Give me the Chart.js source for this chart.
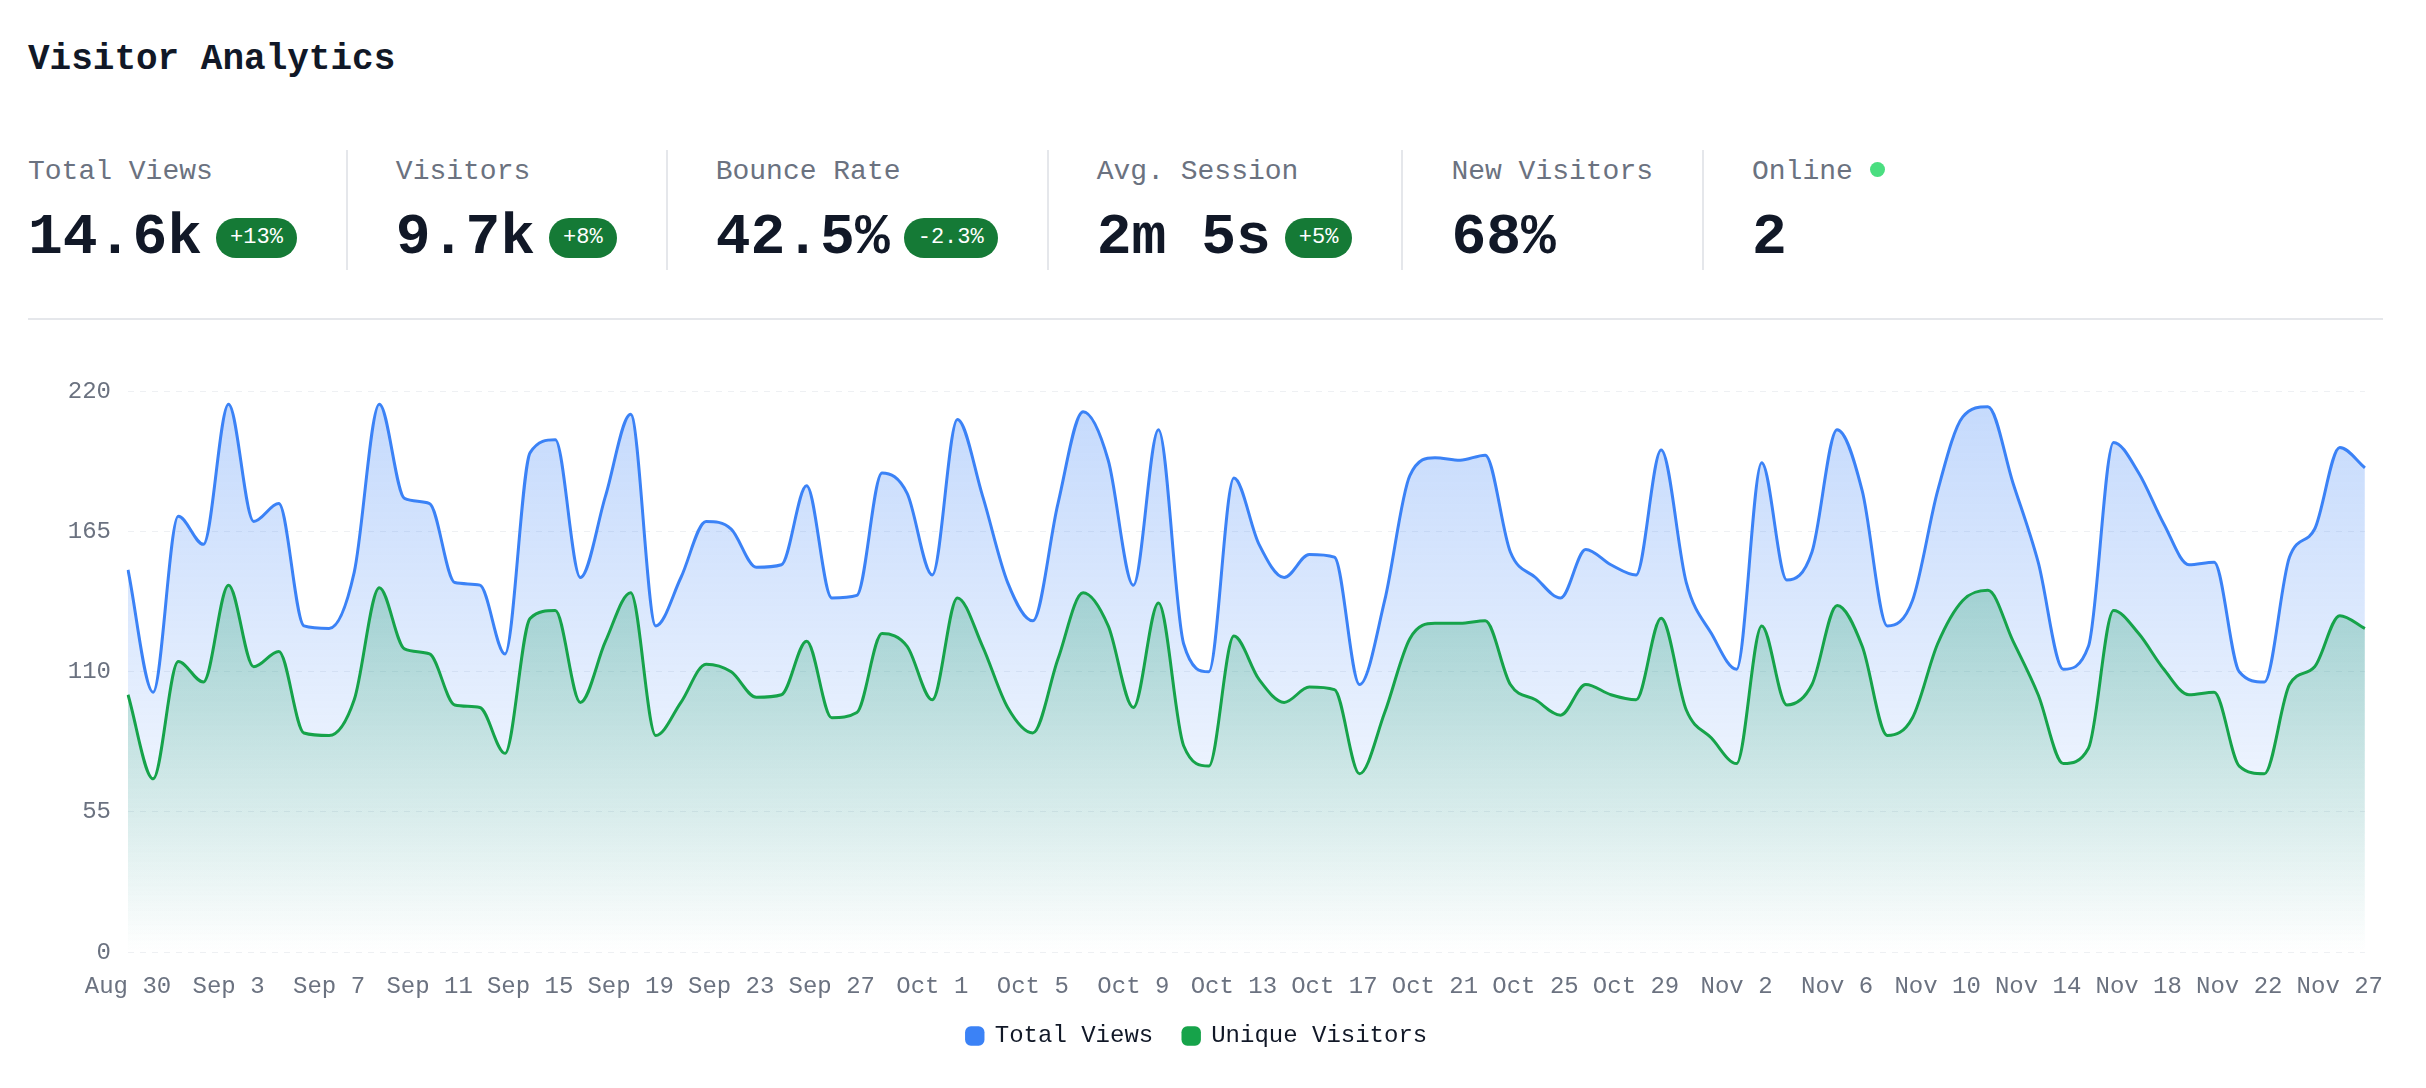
<!DOCTYPE html>
<html>
<head>
<meta charset="utf-8">
<script src="https://cdn.jsdelivr.net/npm/chart.js@4.4.1/dist/chart.umd.min.js"></script>
<style>
  body { margin: 0; background: #fff; font-family: 'Liberation Mono', monospace; color: #111827; width: 2426px; height: 1088px; overflow: hidden; position: relative; }
  h1 { position: absolute; left: 28px; top: 42px; margin: 0; font-size: 36px; line-height: 36px; font-weight: 700; }
  .stats { position: absolute; left: 28px; top: 150px; display: flex; }
  .stat { height: 120px; padding: 0 49px 0 48px; border-left: 2px solid #e5e7eb; }
  .stat:first-child { padding-left: 0; border-left: none; }
  .lbl { font-size: 28px; line-height: 28px; color: #6b7280; margin-top: 8px; display: flex; align-items: center; }
  .val { display: flex; align-items: center; margin-top: 23px; height: 58px; }
  .num { font-size: 58px; line-height: 58px; font-weight: 700; }
  .badge { margin-left: 14px; background: #157a36; color: #fff; font-size: 22px; height: 40px; line-height: 40px; padding: 0 14px; border-radius: 20px; }
  .dot { width: 15px; height: 15px; border-radius: 50%; background: #4ade80; margin-left: 17px; position: relative; top: -3px; }
  .sep { position: absolute; left: 28px; top: 318px; width: 2355px; height: 2px; background: #e5e7eb; }
  .chart { position: absolute; left: 28px; top: 360px; width: 2367px; height: 727px; }
</style>
</head>
<body>
<h1>Visitor Analytics</h1>
<div class="stats">
  <div class="stat"><div class="lbl">Total Views</div><div class="val"><span class="num">14.6k</span><span class="badge">+13%</span></div></div>
  <div class="stat"><div class="lbl">Visitors</div><div class="val"><span class="num">9.7k</span><span class="badge">+8%</span></div></div>
  <div class="stat"><div class="lbl">Bounce Rate</div><div class="val"><span class="num">42.5%</span><span class="badge">-2.3%</span></div></div>
  <div class="stat"><div class="lbl">Avg. Session</div><div class="val"><span class="num">2m 5s</span><span class="badge">+5%</span></div></div>
  <div class="stat"><div class="lbl">New Visitors</div><div class="val"><span class="num">68%</span></div></div>
  <div class="stat"><div class="lbl">Online<span class="dot"></span></div><div class="val"><span class="num">2</span></div></div>
</div>
<div class="sep"></div>
<div class="chart"><canvas id="chart"></canvas></div>

<script>
// dates on the x axis (one day is missing in the source data near the end)
var days = [
  'Aug 30', 'Aug 31',
  'Sep 1', 'Sep 2', 'Sep 3', 'Sep 4', 'Sep 5', 'Sep 6', 'Sep 7', 'Sep 8', 'Sep 9', 'Sep 10',
  'Sep 11', 'Sep 12', 'Sep 13', 'Sep 14', 'Sep 15', 'Sep 16', 'Sep 17', 'Sep 18', 'Sep 19', 'Sep 20',
  'Sep 21', 'Sep 22', 'Sep 23', 'Sep 24', 'Sep 25', 'Sep 26', 'Sep 27', 'Sep 28', 'Sep 29', 'Sep 30',
  'Oct 1', 'Oct 2', 'Oct 3', 'Oct 4', 'Oct 5', 'Oct 6', 'Oct 7', 'Oct 8', 'Oct 9', 'Oct 10',
  'Oct 11', 'Oct 12', 'Oct 13', 'Oct 14', 'Oct 15', 'Oct 16', 'Oct 17', 'Oct 18', 'Oct 19', 'Oct 20',
  'Oct 21', 'Oct 22', 'Oct 23', 'Oct 24', 'Oct 25', 'Oct 26', 'Oct 27', 'Oct 28', 'Oct 29', 'Oct 30', 'Oct 31',
  'Nov 1', 'Nov 2', 'Nov 3', 'Nov 4', 'Nov 5', 'Nov 6', 'Nov 7', 'Nov 8', 'Nov 9', 'Nov 10',
  'Nov 11', 'Nov 12', 'Nov 13', 'Nov 14', 'Nov 15', 'Nov 16', 'Nov 17', 'Nov 18', 'Nov 19', 'Nov 20',
  'Nov 21', 'Nov 22', 'Nov 23', 'Nov 24', 'Nov 25', 'Nov 27', 'Nov 28'
];

var totalViews = [
  150, 102, 171, 160, 215, 169, 176, 128, 127, 149,
  215, 178, 176, 145, 144, 117, 196, 201, 147, 179,
  211, 128, 147, 169, 166, 151, 152, 183, 139, 140,
  188, 180, 148, 209, 179, 145, 130, 176, 212, 193,
  144, 205, 121, 110, 186, 160, 147, 156, 155, 105,
  138, 187, 194, 193, 195, 157, 147, 139, 158, 152,
  148, 197, 145, 125, 111, 192, 146, 157, 205, 181,
  128, 138, 181, 210, 214, 184, 153, 111, 120, 200,
  188, 168, 152, 153, 110, 106, 155, 166, 198, 190
];

var uniqueVisitors = [
  101, 68, 114, 106, 144, 112, 118, 86, 85, 99,
  143, 119, 117, 97, 96, 78, 131, 134, 98, 122,
  141, 85, 98, 113, 110, 100, 101, 122, 92, 94,
  125, 120, 99, 139, 120, 96, 86, 115, 141, 128,
  96, 137, 81, 73, 124, 107, 98, 104, 103, 70,
  94, 123, 129, 129, 130, 105, 99, 93, 105, 101,
  99, 131, 95, 84, 74, 128, 97, 105, 136, 120,
  85, 92, 121, 138, 142, 122, 101, 74, 80, 134,
  125, 111, 101, 102, 73, 70, 105, 112, 132, 127
];

var yMax = 220;
var yStep = 55;

Chart.defaults.font.family = "'Liberation Mono', monospace";

// vertical fade under a line
function fade(rgb, topAlpha) {
  return function(c) {
    var area = c.chart.chartArea;
    if (!area) return 'rgba(' + rgb + ',0)';
    var g = c.chart.ctx.createLinearGradient(0, area.top, 0, area.bottom);
    g.addColorStop(0, 'rgba(' + rgb + ',' + topAlpha + ')');
    g.addColorStop(1, 'rgba(' + rgb + ',0)');
    return g;
  };
}

// pull the legend a bit closer to the x labels
var legendNudge = {
  id: 'legendNudge',
  afterLayout: function(chart) {
    var lg = chart.legend;
    lg.top -= 19;
    lg.bottom -= 19;
    lg.left -= 14;
    lg.right -= 14;
  }
};

new Chart(document.getElementById('chart'), {
  type: 'line',
  data: {
    labels: days,
    datasets: [
      {
        label: 'Total Views',
        data: totalViews,
        borderColor: '#3b82f6',
        backgroundColor: fade('59,130,246', 0.3),
        borderWidth: 3,
        pointRadius: 0,
        fill: 'origin',
        cubicInterpolationMode: 'monotone'
      },
      {
        label: 'Unique Visitors',
        data: uniqueVisitors,
        borderColor: '#16a34a',
        backgroundColor: fade('22,163,74', 0.45),
        borderWidth: 3,
        pointRadius: 0,
        fill: 'origin',
        cubicInterpolationMode: 'monotone'
      }
    ]
  },
  options: {
    responsive: true,
    maintainAspectRatio: false,
    animation: false,
    layout: { padding: { top: 24, right: 1, bottom: 10, left: 0 } },
    plugins: {
      filler: { drawTime: 'beforeDatasetsDraw' },
      tooltip: { enabled: false },
      legend: {
        position: 'bottom',
        labels: {
          usePointStyle: true,
          pointStyle: 'rectRounded',
          boxWidth: 16,
          boxHeight: 16,
          padding: 30,
          color: '#111827',
          font: { size: 24 },
          generateLabels: function(chart) {
            var items = Chart.defaults.plugins.legend.labels.generateLabels(chart);
            items.forEach(function(it) {
              var col = chart.data.datasets[it.datasetIndex].borderColor;
              it.fillStyle = col;
              it.strokeStyle = col;
              it.lineWidth = 0;
            });
            return items;
          }
        }
      }
    },
    scales: {
      x: {
        grid: { display: false },
        border: { display: false },
        ticks: {
          autoSkip: false,
          maxRotation: 0,
          color: '#6b7280',
          font: { size: 24 },
          padding: 12,
          callback: function(v, i) { return i % 4 === 0 ? days[i] : null; }
        }
      },
      y: {
        min: 0,
        max: yMax,
        grid: { color: '#eef0f3', drawTicks: false },
        border: { display: false, dash: [6, 6] },
        ticks: { stepSize: yStep, color: '#6b7280', font: { size: 24 }, padding: 17 },
        afterFit: function(axis) { axis.width = 100; }
      }
    }
  },
  plugins: [legendNudge]
});
</script>
</body>
</html>
